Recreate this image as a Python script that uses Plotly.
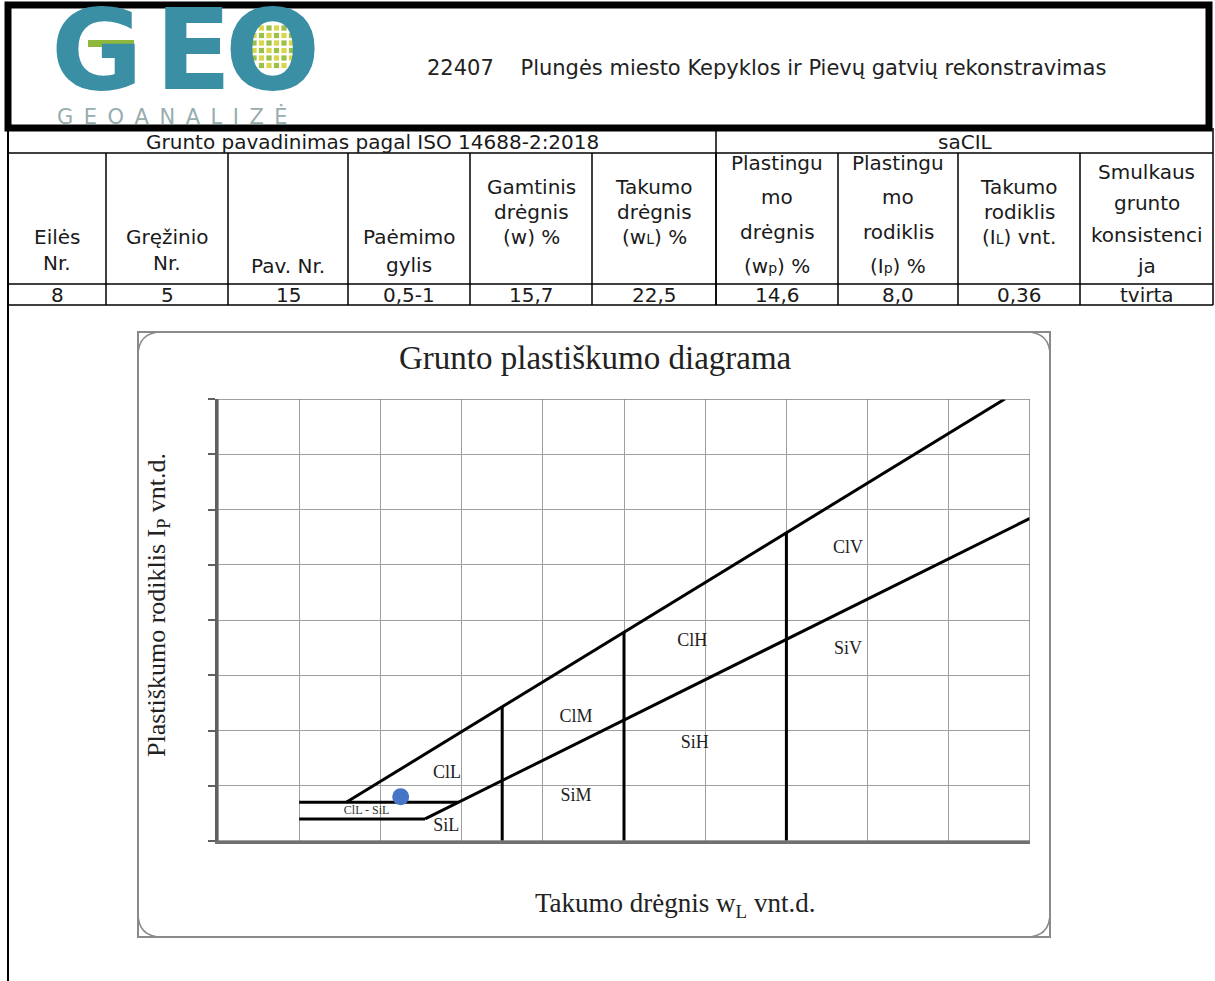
import plotly.graph_objects as go

W, H = 1215, 981

# ---------------- data ----------------
project_title = "22407    Plungės miesto Kepyklos ir Pievų gatvių rekonstravimas"
group_left = "Grunto pavadinimas pagal ISO 14688-2:2018"
group_right = "saCIL"
logo_word = "GEO"
logo_sub = "GEOANALIZĖ"

header_lines = [
    ["Eilės", "Nr."],
    ["Gręžinio", "Nr."],
    ["Pav. Nr."],
    ["Paėmimo", "gylis"],
    ["Gamtinis", "drėgnis", "(w) %"],
    ["Takumo", "drėgnis", "(w<span style='font-size:14px'>L</span>) %"],
    ["Plastingu", "mo", "drėgnis", "(w<span style='font-size:14px'>p</span>) %"],
    ["Plastingu", "mo", "rodiklis", "(I<span style='font-size:14px'>p</span>) %"],
    ["Takumo", "rodiklis", "(I<span style='font-size:14px'>L</span>) vnt."],
    ["Smulkaus", "grunto", "konsistenci", "ja"],
]
row_values = ["8", "5", "15", "0,5-1", "15,7", "22,5", "14,6", "8,0", "0,36", "tvirta"]

# plasticity chart (wL on x, Ip on y)
sample_wl = [22.5]
sample_ip = [8.0]
u_line_wl = [15.8, 96.9]
u_line_ip = [7.0, 80.0]
a_line_wl = [25.5, 100.0]
a_line_ip = [4.0, 58.4]
low_ip_levels = [7.0, 4.0]
low_wl_start = [10.0, 10.0]
low_wl_end = [29.6, 25.5]
boundary_wl = [35, 50, 70]
boundary_ip_top = [24.3, 37.8, 55.8]
zone_labels = ["ClL", "ClM", "ClH", "ClV", "SiL", "SiM", "SiH", "SiV"]
zone_wl = [28.2, 44.1, 58.4, 77.6, 28.1, 44.1, 58.7, 77.6]
zone_ip = [12.3, 22.3, 36.2, 53.0, 2.7, 8.0, 17.6, 34.6]
small_label = ["ClL - SiL"]
small_label_wl = [18.3]
small_label_ip = [5.5]

# ---------------- helpers (layout in page pixels) ----------------
def px(x):
    return x / W

def py(y):
    return 1 - y / H

SANS = "DejaVu Sans"
SERIF = "Liberation Serif"

shapes = []
annotations = []

def line(x0, y0, x1, y1, w=1.5, c="black"):
    shapes.append(dict(type="line", xref="paper", yref="paper",
                       x0=px(x0), y0=py(y0), x1=px(x1), y1=py(y1),
                       line=dict(color=c, width=w)))

def text(x, y, t, size=20, font=SANS, color="#1a1a1a", **kw):
    annotations.append(dict(xref="paper", yref="paper", x=px(x), y=py(y),
                            text=t, showarrow=False, xanchor=kw.get("xanchor", "center"),
                            yanchor="middle", font=dict(family=font, size=size, color=color,
                                                        weight=kw.get("weight", "normal")),
                            textangle=kw.get("angle", 0)))

# ---------------- header ----------------
shapes.append(dict(type="rect", xref="paper", yref="paper",
                   x0=px(8), y0=py(5), x1=px(1209), y1=py(128),
                   line=dict(color="black", width=7)))

# logo
teal = "#3a8fa4"
for i in range(6):
    for j in range(6):
        cx = 254 + i * 7.5
        cy = 28 + j * 7.5
        if (cx - 273) ** 2 + (cy - 47) ** 2 > 23 ** 2:
            continue
        col = "#9cbf45" if (i + j) % 2 == 0 else "#d9d54c"
        shapes.append(dict(type="rect", xref="paper", yref="paper",
                           x0=px(cx - 2.6), x1=px(cx + 2.6), y0=py(cy - 2.6), y1=py(cy + 2.6),
                           line=dict(width=0), fillcolor=col, layer="below"))
shapes.append(dict(type="rect", xref="paper", yref="paper",
                   x0=px(88), x1=px(134), y0=py(40), y1=py(47),
                   line=dict(width=0), fillcolor="#8db83d"))
for ch, cx in zip(logo_word, [97, 193, 272]):
    text(cx, 50, ch, size=112, color=teal, weight="bold")
text(172, 116, "\u2002".join(logo_sub), size=21, color="#97adae")

text(425, 68, project_title, size=21, xanchor="left", color="#222")

# ---------------- table ----------------
cols = [8, 106, 228, 348, 470, 592, 716, 838, 958, 1080, 1213]
line(8, 128, 8, 981, w=2)
line(1213, 128, 1213, 305, w=1.5)
for yy in [153, 284, 305]:
    line(8, yy, 1213, yy)
line(716, 128, 716, 305)
for xx in cols[1:-1]:
    line(xx, 153, xx, 305)

text(372, 142, group_left, size=20)
text(965, 142, group_right, size=20)

line_pos = [
    [237, 263], [237, 263], [266], [237, 265],
    [187, 212, 237], [187, 212, 237],
    [163, 197, 232, 266], [163, 197, 232, 266],
    [187, 212, 237], [172, 203, 235, 266],
]
for k, lines in enumerate(header_lines):
    cx = (cols[k] + cols[k + 1]) / 2
    for t, yy in zip(lines, line_pos[k]):
        text(cx, yy, t, size=20)
for k, v in enumerate(row_values):
    cx = (cols[k] + cols[k + 1]) / 2
    text(cx, 295, v, size=20)

# ---------------- chart box ----------------
bx0, by0, bx1, by1, r = 138, 332, 1050, 937, 24
shapes.append(dict(type="rect", xref="paper", yref="paper",
                   x0=px(bx0), y0=py(by0), x1=px(bx1), y1=py(by1),
                   line=dict(color="#8a8a8a", width=2)))

def arc(xa, ya, xc, yc, xb, yb):
    shapes.append(dict(type="path", xref="paper", yref="paper",
                       path=f"M {px(xa)},{py(ya)} Q {px(xc)},{py(yc)} {px(xb)},{py(yb)}",
                       line=dict(color="#8a8a8a", width=1.5)))

arc(bx0, by0 + r, bx0, by0, bx0 + r, by0)
arc(bx1 - r, by0, bx1, by0, bx1, by0 + r)
arc(bx1, by1 - r, bx1, by1, bx1 - r, by1)
arc(bx0 + r, by1, bx0, by1, bx0, by1 - r)

text(595, 358, "Grunto plastiškumo diagrama", size=33, font=SERIF, color="#222")
text(675, 905, "Takumo drėgnis w<sub>L</sub> vnt.d.", size=27, font=SERIF, color="#222")
text(158, 605, "Plastiškumo rodiklis I<sub>P</sub> vnt.d.", size=26, font=SERIF, color="#222", angle=-90)

# ---------------- chart traces ----------------
fig = go.Figure()

lx, ly = [], []
for xs, ys in [(u_line_wl, u_line_ip), (a_line_wl, a_line_ip)]:
    lx += list(xs) + [None]
    ly += list(ys) + [None]
for lev, x0, x1 in zip(low_ip_levels, low_wl_start, low_wl_end):
    lx += [x0, x1, None]
    ly += [lev, lev, None]
for bw, top in zip(boundary_wl, boundary_ip_top):
    lx += [bw, bw, None]
    ly += [0, top, None]

fig.add_trace(go.Scatter(x=lx, y=ly, mode="lines", line=dict(color="black", width=3),
                         hoverinfo="skip", showlegend=False))
fig.add_trace(go.Scatter(x=zone_wl, y=zone_ip, mode="text", text=zone_labels,
                         textfont=dict(family=SERIF, size=18, color="#222"),
                         hoverinfo="skip", showlegend=False))
fig.add_trace(go.Scatter(x=small_label_wl, y=small_label_ip, mode="text", text=small_label,
                         textfont=dict(family=SERIF, size=12, color="#333"),
                         hoverinfo="skip", showlegend=False))
fig.add_trace(go.Scatter(x=sample_wl, y=sample_ip, mode="markers",
                         marker=dict(size=17, color="#4674c6", line=dict(width=0)),
                         name="Pav. 15", showlegend=False))

shapes.append(dict(type="rect", xref="x", yref="y", x0=0, y0=0, x1=100, y1=80,
                   line=dict(color="#808080", width=1.5)))

fig.update_layout(
    width=W, height=H, autosize=False,
    margin=dict(l=0, r=0, t=0, b=0, pad=0),
    paper_bgcolor="white", plot_bgcolor="white",
    shapes=shapes, annotations=annotations,
    xaxis=dict(domain=[px(218), px(1030)], range=[0, 100], dtick=10, tick0=0,
               showgrid=True, gridcolor="#a0a0a0", gridwidth=1, zeroline=False,
               showticklabels=False, showline=True, linecolor="#707070", linewidth=3,
               ticks="", fixedrange=True),
    yaxis=dict(domain=[py(841), py(399)], range=[0, 80], dtick=10, tick0=0,
               showgrid=True, gridcolor="#a0a0a0", gridwidth=1, zeroline=False,
               showticklabels=False, showline=True, linecolor="#606060", linewidth=3,
               ticks="outside", ticklen=7, tickwidth=2, tickcolor="#606060", fixedrange=True),
    showlegend=False,
)

fig.write_html("out.html", config={"displayModeBar": False},
               post_script="document.body.style.margin='0';document.body.style.overflow='hidden';")
